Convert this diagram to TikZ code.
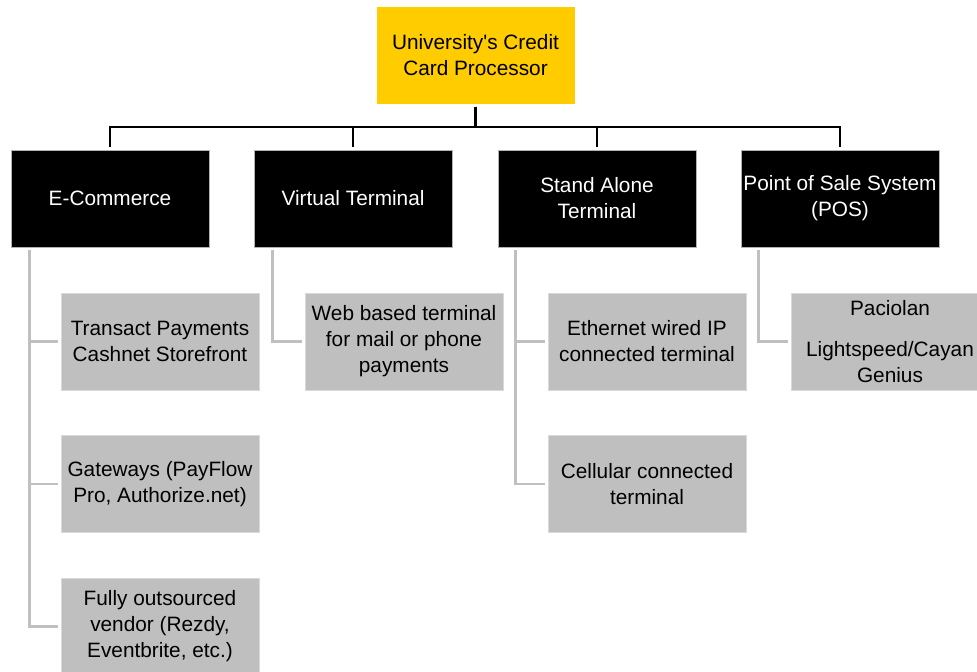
\documentclass[tikz,border=0pt]{standalone}
\usepackage{fontspec}
\setmainfont[Ligatures=TeXOff]{Liberation Sans}
\definecolor{cardyellow}{RGB}{255,204,0}
\definecolor{leafgray}{RGB}{191,191,191}
\definecolor{linegray}{RGB}{192,192,192}

\begin{document}
\begin{tikzpicture}
	[x=0.75pt, y=-0.75pt,
	font=\fontsize{15.6}{19.5}\selectfont,
	box/.style={rectangle, minimum width=148.5pt, minimum height=72.75pt, inner sep=1pt, outer sep=2pt, align=center},
	rootbox/.style={box, fill=cardyellow},
	catbox/.style={box, fill=black, draw=gray!60, line width=0.6pt, text=white},
	leafbox/.style={box, fill=leafgray, draw=leafgray!60, line width=0.6pt},
	trunk/.style={black, line width=2.2pt},
	branch/.style={linegray, line width=2pt}]

	% Page frame
	\path[use as bounding box, clip] (0,0) rectangle (977,671);

	% Root
	\node[rootbox] (root) at (475.5,55.5) {University's Credit\\Card Processor};

	% Categories
	\node[catbox] (ecom) at (110,198.5) {E-Commerce};
	\node[catbox] (vterm) at (353,198.5) {Virtual Terminal};
	\node[catbox] (stand) at (597,198.5) {Stand Alone\\Terminal};
	\node[catbox] (pos) at (840,198.5) {Point of Sale System\\(POS)};

	% Leaves
	\node[leafbox] (transact) at (160,341.5) {Transact Payments\\Cashnet Storefront};
	\node[leafbox] (gateways) at (160,484) {Gateways (PayFlow\\Pro, Authorize.net)};
	\node[leafbox] (vendor) at (160,626.5) {Fully outsourced\\vendor (Rezdy,\\Eventbrite, etc.)};
	\node[leafbox] (web) at (404,341.5) {Web based terminal\\for mail or phone\\payments};
	\node[leafbox] (ethernet) at (647,341.5) {Ethernet wired IP\\connected terminal};
	\node[leafbox] (cellular) at (647,484) {Cellular connected\\terminal};
	\node[leafbox] (paciolan) at (890,341.5) {Paciolan\\[11pt]Lightspeed/Cayan\\Genius};

	% Trunk lines
	\coordinate (bar) at (475,127);
	\foreach \n in {ecom,vterm,stand,pos}
		\draw[trunk] (root.south) |- (bar -| \n) -- (\n.north);

	% Branch lines
	\foreach \l in {transact,gateways,vendor}
		\draw[branch] (ecom.south west) ++(21,0) |- (\l.west);
	\draw[branch] (vterm.south west) ++(21,0) |- (web.west);
	\foreach \l in {ethernet,cellular}
		\draw[branch] (stand.south west) ++(20,0) |- (\l.west);
	\draw[branch] (pos.south west) ++(20,0) |- (paciolan.west);

\end{tikzpicture}
\end{document}
